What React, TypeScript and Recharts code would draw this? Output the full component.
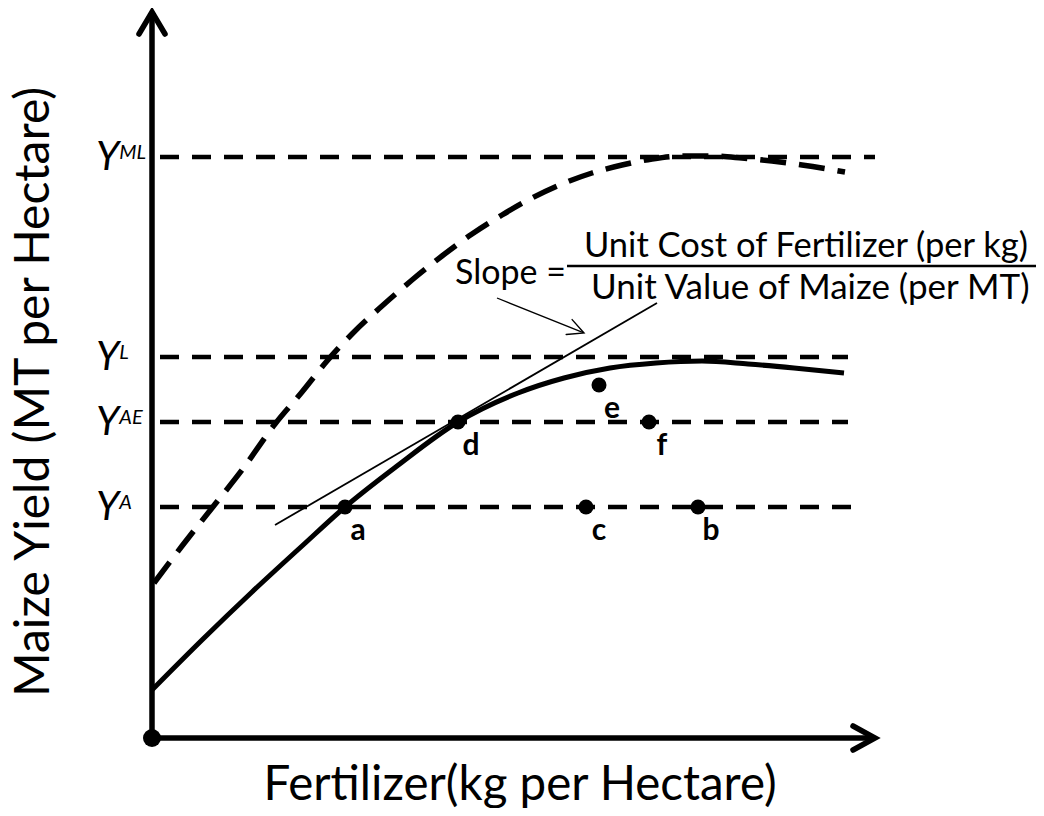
import React from 'react';
import { ComposedChart, Line, XAxis, YAxis, ReferenceLine, ReferenceDot, Scatter } from 'recharts';

const FONT = 'Lato, "Open Sans", sans-serif';

// Potential (ML) yield curve, dashed
const potentialX = [2, 30, 60, 90, 123, 150, 175, 200, 230, 260, 290, 320, 350, 380, 410, 440, 470, 500, 530, 560, 590, 620, 650, 693];
const potentialY = [155, 192, 230, 268, 314, 346, 377, 404, 432, 458, 482, 504, 523, 540, 554, 565, 573, 579, 582, 582, 580, 577, 573, 566];

// Actual response curve, solid
const actualX = [0, 50, 100, 150, 193, 245, 306, 366, 412, 458, 504, 550, 596, 642, 692];
const actualY = [48, 98, 146, 192, 231, 272, 316, 345, 360, 370, 375, 377, 374, 370, 365];

// Yield levels
const levelNames = ['ML', 'L', 'AE', 'A'];
const levelValues = [581, 381, 316, 231];
const levelStart = 8;
const levelEnds = [723, 696, 696, 703];

// Labelled points
const pointNames = ['a', 'd', 'c', 'b', 'e', 'f'];
const pointX = [193, 306, 434, 546, 447, 497];
const pointY = [231, 316, 231, 231, 353, 316];

// Tangent line and pointer arrow
const tangentX = [123, 505];
const tangentY = [213, 435];
const pointerX = [345, 432];
const pointerY = [440, 405];

const xTitle = 'Fertilizer(kg per Hectare)';
const yTitle = 'Maize Yield (MT per Hectare)';
const slopeLabel = 'Slope =';
const slopeNumerator = 'Unit Cost of Fertilizer (per kg)';
const slopeDenominator = 'Unit Value of Maize (per MT)';
const slopeAnchor = [303, 456];

const xMax = 730;
const yMax = 730;
const axisTipX = 723;
const axisTipY = 726;

const toPoints = (xs: number[], ys: number[]) => xs.map((x, i) => ({ x, y: ys[i] }));
const potentialData = toPoints(potentialX, potentialY);
const actualData = toPoints(actualX, actualY);
const pointData = pointNames.map((name, i) => ({ name, x: pointX[i], y: pointY[i] }));

const arrowShape = (len: number, half: number, width: number, lineWidth: number) => (props: any) => {
  const { x1, y1, x2, y2 } = props;
  const dx = x2 - x1;
  const dy = y2 - y1;
  const L = Math.hypot(dx, dy) || 1;
  const ux = dx / L;
  const uy = dy / L;
  const bx = x2 - ux * len;
  const by = y2 - uy * len;
  const px = -uy * half;
  const py = ux * half;
  return (
    <g>
      <line x1={x1} y1={y1} x2={x2 - ux * lineWidth * 0.6} y2={y2 - uy * lineWidth * 0.6} stroke="#000" strokeWidth={lineWidth} />
      <polyline
        points={`${bx + px},${by + py} ${x2},${y2} ${bx - px},${by - py}`}
        fill="none"
        stroke="#000"
        strokeWidth={width}
        strokeLinejoin="miter"
        strokeLinecap="round"
      />
    </g>
  );
};

const dotShape = (props: any) => {
  const { cx, cy, payload } = props;
  return (
    <g>
      <circle cx={cx} cy={cy} r={7.5} fill="#000" />
      <text x={cx + 13} y={cy + 33} textAnchor="middle" fontFamily={FONT} fontWeight={700} fontSize={30} fill="#000">
        {payload.name}
      </text>
    </g>
  );
};

const levelLabel = (name: string) => (props: any) => {
  const vb = props.viewBox || {};
  return (
    <text x={vb.x - 64} y={vb.y + 13} fontFamily={FONT} fontStyle="italic" fontSize={40} fill="#000">
      Y
      <tspan fontSize={20} dy={-11}>{name}</tspan>
    </text>
  );
};

const slopeContent = (props: any) => {
  const vb = props.viewBox || {};
  const x = vb.x;
  const y = vb.y;
  return (
    <g fontFamily={FONT} fill="#000">
      <text x={x} y={y + 2} fontSize={34}>{slopeLabel}</text>
      <text x={x + 129} y={y - 25} fontSize={34.5}>{slopeNumerator}</text>
      <line x1={x + 112} y1={y - 16} x2={x + 582} y2={y - 16} stroke="#000" strokeWidth={2.5} />
      <text x={x + 136} y={y + 17} fontSize={35}>{slopeDenominator}</text>
    </g>
  );
};

const xTitleContent = (props: any) => {
  const vb = props.viewBox || {};
  return (
    <text x={vb.x + vb.width / 2 + 3} y={vb.y + 62} textAnchor="middle" fontFamily={FONT} fontSize={47.5} fill="#000">
      {xTitle}
    </text>
  );
};

const yTitleContent = (props: any) => {
  const vb = props.viewBox || {};
  const x = vb.x + 49;
  const y = vb.y + 384;
  return (
    <text x={x} y={y} textAnchor="middle" transform={`rotate(-90, ${x}, ${y})`} fontFamily={FONT} fontSize={48} fill="#000">
      {yTitle}
    </text>
  );
};

export default function App() {
  return (
    <div style={{ width: 1044, height: 816, margin: -8, background: '#fff' }}>
      <ComposedChart width={1044} height={816} margin={{ top: 8, right: 162, bottom: 0, left: 0 }}>
        <XAxis
          type="number"
          dataKey="x"
          domain={[0, xMax]}
          allowDataOverflow
          tick={false}
          tickLine={false}
          axisLine={false}
          height={78}
          label={{ content: xTitleContent }}
        />
        <YAxis
          type="number"
          dataKey="y"
          domain={[0, yMax]}
          allowDataOverflow
          tick={false}
          tickLine={false}
          axisLine={false}
          width={152}
          label={{ content: yTitleContent }}
        />
        {levelValues.map((v, i) => (
          <ReferenceLine
            key={levelNames[i]}
            segment={[{ x: levelStart, y: v }, { x: levelEnds[i], y: v }]}
            stroke="#000"
            strokeWidth={4.5}
            strokeDasharray="19 13"
            label={{ content: levelLabel(levelNames[i]) }}
          />
        ))}
        <Line
          data={potentialData}
          dataKey="y"
          type="monotone"
          stroke="#000"
          strokeWidth={5.5}
          strokeDasharray="26 13"
          dot={false}
          isAnimationActive={false}
        />
        <Line
          data={actualData}
          dataKey="y"
          type="monotone"
          stroke="#000"
          strokeWidth={5}
          dot={false}
          isAnimationActive={false}
        />
        <ReferenceLine
          segment={[{ x: tangentX[0], y: tangentY[0] }, { x: tangentX[1], y: tangentY[1] }]}
          stroke="#000"
          strokeWidth={1.8}
        />
        <ReferenceLine
          segment={[{ x: pointerX[0], y: pointerY[0] }, { x: pointerX[1], y: pointerY[1] }]}
          stroke="#000"
          shape={arrowShape(16, 8, 1.4, 1.3)}
        />
        <ReferenceLine
          segment={[{ x: 0, y: 0 }, { x: 0, y: axisTipY }]}
          stroke="#000"
          shape={arrowShape(22, 13, 5.5, 5.5)}
        />
        <ReferenceLine
          segment={[{ x: 0, y: 0 }, { x: axisTipX, y: 0 }]}
          stroke="#000"
          shape={arrowShape(22, 12, 5.5, 5.5)}
        />
        <ReferenceDot x={0} y={0} r={9} fill="#000" stroke="none" />
        <ReferenceDot
          x={slopeAnchor[0]}
          y={slopeAnchor[1]}
          r={0}
          fill="none"
          stroke="none"
          label={{ content: slopeContent }}
        />
        <Scatter data={pointData} dataKey="y" shape={dotShape} isAnimationActive={false} />
      </ComposedChart>
    </div>
  );
}
